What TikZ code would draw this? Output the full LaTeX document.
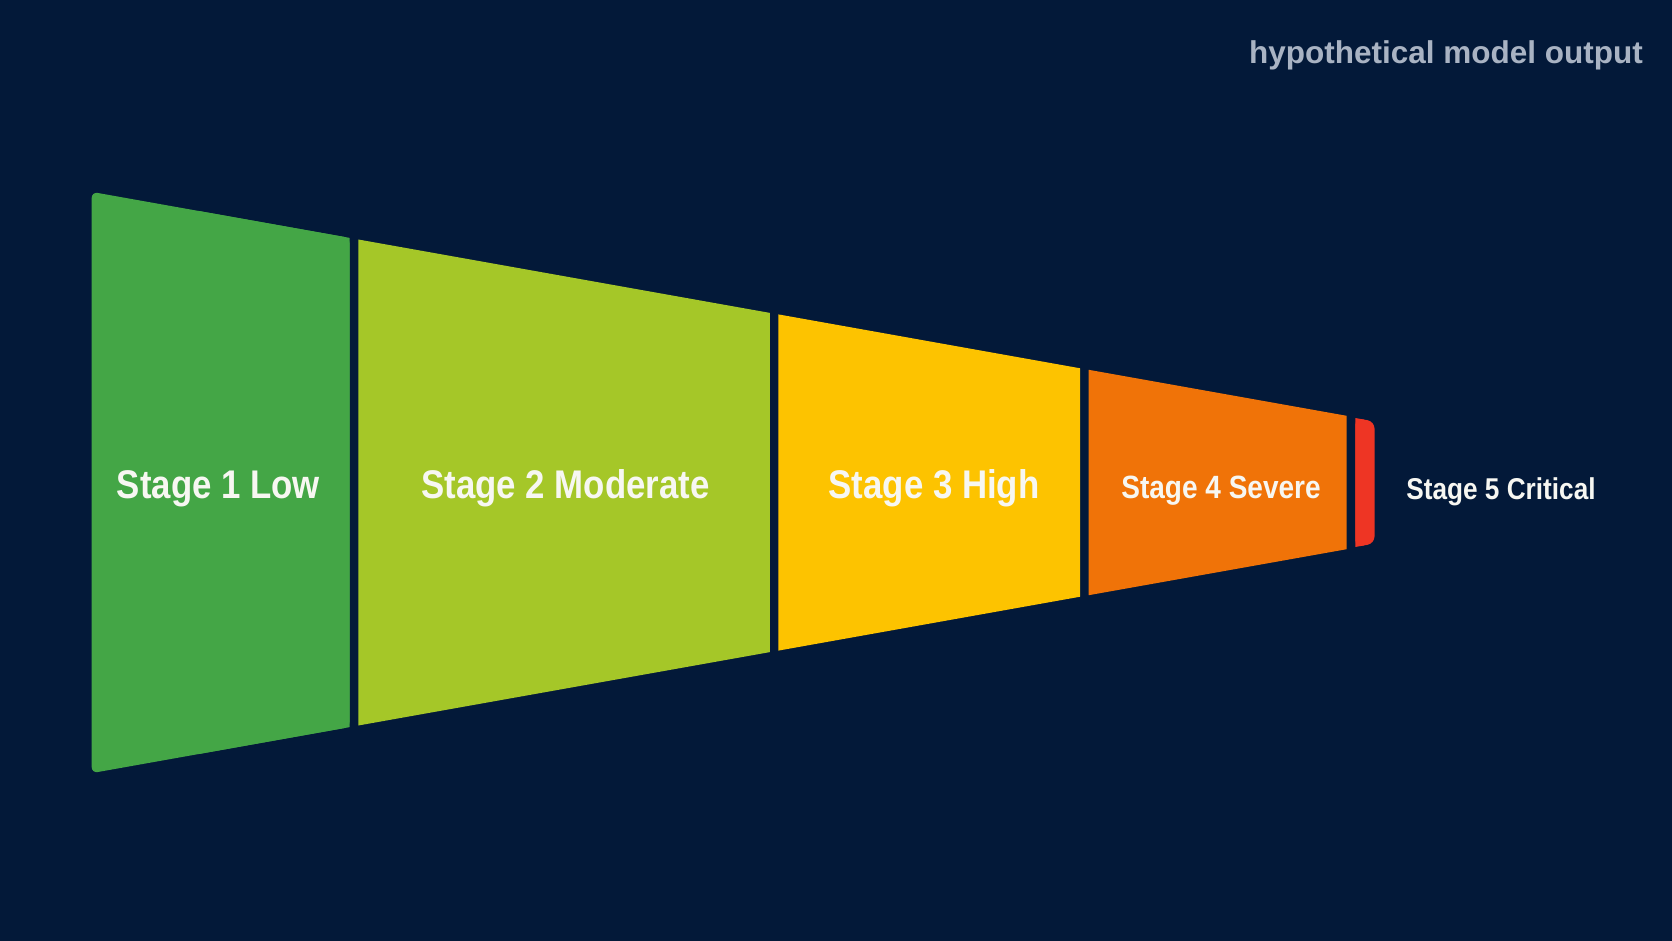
\documentclass[tikz,border=0pt]{standalone}
\usepackage{fontspec}
\setmainfont{Liberation Sans}
\newfontfamily\labfont[FakeStretch=0.87]{Liberation Sans}
\definecolor{bg}{HTML}{031939}
\definecolor{cone}{HTML}{44A646}
\definecolor{ctwo}{HTML}{A5C728}
\definecolor{cthree}{HTML}{FDC300}
\definecolor{cfour}{HTML}{F07308}
\definecolor{cfive}{HTML}{EE3524}
\definecolor{hdr}{HTML}{A9B3C3}
\definecolor{txt}{HTML}{F7F7F2}
\tikzset{
  lab/.style={text=txt, font=\labfont\bfseries\fontsize{40}{44}\selectfont, anchor=base, inner sep=0pt},
  labsmall/.style={lab, font=\labfont\bfseries\fontsize{32.2}{36}\selectfont},
  labtiny/.style={lab, font=\labfont\bfseries\fontsize{30.1}{34}\selectfont},
}
\begin{document}
\begin{tikzpicture}[x=1pt,y=-1pt]
\fill[bg] (0,0) rectangle (1672,941);
\useasboundingbox (0,0) rectangle (1672,941);
% stage 1 (rounded left corners)
\fill[cone, rounded corners=6] (349.7,237.9) -- (91.7,191.9) -- (91.7,773.1) -- (349.7,727.1) -- cycle;
\fill[cone] (349.7,237.9) -- (200,211.2) -- (200,753.8) -- (349.7,727.1) -- cycle;
% stage 2
\fill[ctwo] (358.3,239.5) -- (769.9,312.9) -- (769.9,652.1) -- (358.3,725.5) -- cycle;
% stage 3
\fill[cthree] (778.4,314.4) -- (1080.2,368.3) -- (1080.2,596.7) -- (778.4,650.6) -- cycle;
% stage 4
\fill[cfour] (1088.7,369.8) -- (1346.7,415.8) -- (1346.7,549.2) -- (1088.7,595.2) -- cycle;
% stage 5 (rounded right corners)
\fill[cfive, rounded corners=7] (1355.3,418) -- (1374.5,421.5) -- (1374.5,543.5) -- (1355.3,547) -- cycle;
\fill[cfive] (1355.3,418) -- (1364,419.6) -- (1364,545.4) -- (1355.3,547) -- cycle;
% labels
\node[lab] (l1) at (218.5,498) {Stage 1 Low};
\node[lab] (l2) at (565.6,498) {Stage 2 Moderate};
\node[lab] (l3) at (934,498) {Stage 3 High};
\node[labsmall] (l4) at (1221,498) {Stage 4 Severe};
\node[labtiny] (l5) at (1501,499) {Stage 5 Critical};
\node[lab, text=hdr, font=\bfseries\fontsize{31.5}{36}\selectfont] (hd) at (1446,64) {hypothetical model output};
\end{tikzpicture}
\end{document}
